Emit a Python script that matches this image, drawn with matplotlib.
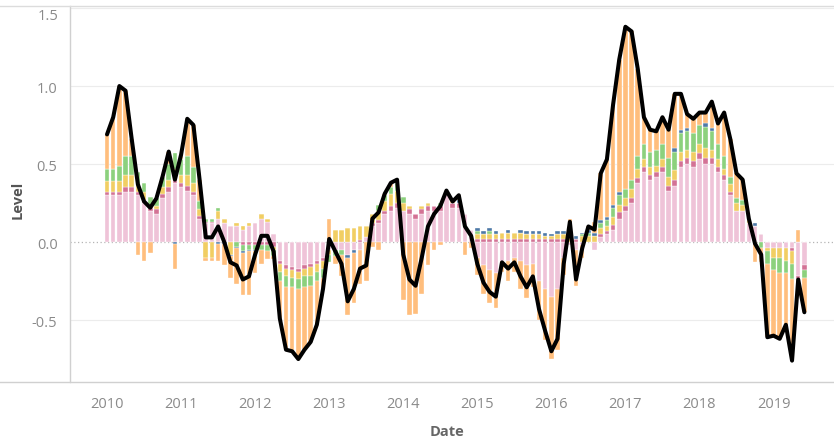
import numpy as np
import matplotlib
matplotlib.use("Agg")
import matplotlib.pyplot as plt
from matplotlib.lines import Line2D

# ---------------- data (monthly, Jan 2010 .. Jun 2019) ----------------
years = [2010, 2011, 2012, 2013, 2014, 2015, 2016, 2017, 2018, 2019]

pink = [.30,.30,.30,.32,.32,.30,.25,.20,.18,.28,.32,.38,
        .35,.33,.30,.15,.12,.12,.15,.12,.10,.10,.08,.10,
        .12,.15,.13,.05,-.12,-.15,-.16,-.17,-.15,-.14,-.12,-.10,
        -.05,-.05,-.05,-.08,-.05,-.05,.03,.10,.12,.18,.20,.22,
        .20,.18,.15,.18,.20,.20,.20,.30,.22,.22,.18,.08,
        -.10,-.15,-.18,-.20,-.12,-.12,-.10,-.12,-.15,-.14,-.25,-.30,
        -.35,-.30,-.10,-.02,-.05,-.02,.00,-.05,.03,.05,.08,.15,
        .20,.25,.38,.45,.40,.42,.45,.33,.36,.48,.50,.48,
        .53,.50,.50,.45,.40,.30,.20,.20,.12,.10,.05,-.04,
        -.04,-.04,-.04,-.04,-.22,-.15]

rose = [.02,.02,.02,.03,.03,.02,.02,.02,.03,.03,.03,.03,
        .03,.03,.02,.02,.01,.01,.00,.00,.00,.00,-.02,-.02,
        -.02,-.02,-.02,-.03,-.02,-.02,-.02,-.02,-.02,-.02,-.02,-.02,
        .00,.00,.00,.00,.00,.01,.00,.02,.02,.02,.03,.03,
        .00,.03,.03,.03,.03,.03,.03,.03,.03,.03,.00,.00,
        .02,.02,.02,.02,.02,.02,.02,.02,.02,.02,.02,.02,
        .02,.02,.02,.00,.02,.00,.00,.00,.02,.02,.03,.04,
        .03,.03,.03,.03,.03,.03,.03,.03,.04,.04,.04,.04,
        .04,.04,.04,.03,.03,.02,.00,.00,.00,.00,.00,.00,
        .00,.00,.00,-.02,-.02,-.03]

yellow = [.07,.07,.07,.08,.08,.05,.05,.02,.02,.04,.05,.06,
          .05,.07,.06,.04,-.10,-.10,.05,.03,-.08,.02,.02,.02,
          .00,.03,.02,-.02,-.05,-.05,-.05,-.05,-.05,-.06,-.05,-.05,
          -.03,.08,.08,.09,.09,.09,.07,.06,.06,.06,.08,.08,
          .05,.02,.00,.02,.02,.00,.00,.00,.00,.00,.00,.00,
          .03,.03,.03,.03,.04,.04,.04,.04,.03,.03,.03,.02,
          .02,.03,.03,.03,.00,.04,.04,.04,.04,.03,.05,.05,
          .05,.06,.06,.05,.05,.04,.05,.06,.06,.06,.05,.06,
          .06,.06,.05,.05,.04,.05,.05,.04,.02,.00,.00,-.02,
          -.06,-.06,-.08,-.08,.00,.00]

green = [.08,.08,.10,.12,.12,.08,.06,.05,.05,.07,.10,.10,
         .10,.12,.10,.05,.02,.02,.02,.00,.00,-.03,-.04,-.03,
         -.03,-.03,-.04,-.04,-.06,-.07,-.06,-.06,-.07,-.06,-.06,-.06,
         -.05,-.04,-.03,.00,.00,.00,.00,.00,.04,.04,.04,.05,
         .04,.00,.00,.00,.00,.00,.02,.00,.00,.00,.00,.00,
         .02,.00,.02,.00,.00,.00,.00,.00,.00,.00,.00,.00,
         .00,.00,.00,.00,.00,.01,.02,.00,.03,.04,.06,.06,
         .06,.06,.08,.10,.10,.10,.10,.12,.12,.12,.12,.12,
         .12,.14,.12,.10,.08,.05,.03,.03,.00,.00,-.04,-.08,
         -.08,-.10,-.08,-.10,-.08,-.05]

blue = [0,0,0,0,0,0,0,0,0,0,0,-.01,
        0,0,0,0,0,0,-.01,-.01,-.01,-.01,-.01,-.01,
        -.01,0,0,0,0,0,0,0,0,0,0,0,
        0,0,0,-.02,-.02,0,0,0,0,0,0,0,
        0,0,0,0,0,0,0,0,0,.02,0,0,
        .02,.02,.02,.02,0,.02,0,.02,.02,.02,.02,.02,
        .01,.02,.02,.02,.02,.01,.02,.02,.02,.02,.02,.02,
        0,0,0,0,0,0,0,0,.02,.02,.02,0,
        0,.02,.02,0,0,0,0,0,0,.02,0,0,
        0,0,0,0,0,0]

orange = [.22,.33,.51,.42,.11,-.08,-.12,-.07,.00,.00,.08,-.16,
          .03,.24,.27,.14,-.02,-.02,-.11,-.14,-.14,-.23,-.27,-.28,
          -.14,-.09,-.05,-.02,-.24,-.40,-.41,-.45,-.40,-.36,-.28,-.07,
          .15,-.05,-.14,-.37,-.32,-.22,-.25,-.03,-.05,.01,.03,.02,
          -.37,-.47,-.46,-.33,-.15,-.05,-.02,.00,.01,.03,-.08,-.04,
          -.11,-.18,-.21,-.22,-.07,-.13,-.09,-.18,-.21,-.15,-.25,-.33,
          -.40,-.39,-.11,.10,-.23,-.08,.02,.07,.30,.37,.64,.85,
          1.04,.95,.56,.17,.14,.12,.17,.18,.35,.23,.09,.09,
          .08,.07,.17,.13,.28,.24,.16,.13,.01,-.13,-.09,-.47,
          -.42,-.42,-.33,-.52,.08,-.22]

level = [.69,.80,1.00,.97,.66,.37,.26,.22,.28,.42,.58,.40,
         .56,.79,.75,.40,.03,.03,.10,.00,-.13,-.15,-.24,-.22,
         -.08,.04,.04,-.06,-.49,-.69,-.70,-.75,-.69,-.64,-.53,-.30,
         .02,-.06,-.14,-.38,-.30,-.17,-.15,.15,.19,.31,.38,.40,
         -.08,-.24,-.28,-.10,.10,.18,.23,.33,.26,.30,.10,.04,
         -.14,-.26,-.32,-.35,-.13,-.17,-.13,-.22,-.29,-.22,-.43,-.57,
         -.70,-.62,-.14,.13,-.24,-.04,.10,.08,.44,.53,.88,1.17,
         1.38,1.35,1.11,.80,.72,.71,.80,.72,.95,.95,.82,.79,
         .83,.83,.90,.76,.83,.66,.44,.40,.15,-.01,-.08,-.61,
         -.60,-.62,-.53,-.76,-.24,-.45]

components = [pink, rose, yellow, green, blue, orange]
colors = ["#EFC3D8", "#D37295", "#F1CE63", "#8CD17D", "#4E79A7", "#FFBE7D"]

# ---------------- figure ----------------
plt.rcParams['font.family'] = ['Open Sans', 'DejaVu Sans']
fig = plt.figure(figsize=(8.34, 4.39), dpi=100)
ax = fig.add_axes([70/834, (439-383)/439, 1 - 70/834, (383-7)/439])

n = len(level)
x = np.arange(n)
pos_base = np.zeros(n)
neg_base = np.zeros(n)
for vals, col in zip(components, colors):
    v = np.array(vals, dtype=float)
    bottoms = np.where(v >= 0, pos_base, neg_base)
    ax.bar(x, v, bottom=bottoms, width=0.74, color=col,
           edgecolor="white", linewidth=0.25, zorder=2)
    pos_base += np.where(v >= 0, v, 0)
    neg_base += np.where(v < 0, v, 0)

ax.plot(x, level, color="black", linewidth=2.9, solid_joinstyle="round",
        solid_capstyle="round", zorder=4)

ax.set_xlim(-6, 117.8)
ax.set_ylim(-0.897, 1.513)

ax.set_xticks([12*k for k in range(len(years))])
ax.set_xticklabels([str(y) for y in years])
ax.set_yticks([-0.5, 0.0, 0.5, 1.0])
ax.set_yticklabels(["-0.5", "0.0", "0.5", "1.0"])
ax.text(-0.015, 1.5, "1.5", transform=ax.get_yaxis_transform(),
        ha="right", va="top", fontsize=10.5, color="#8a8a8a")
ax.tick_params(axis="both", length=0, labelsize=10.5, colors="#8a8a8a")
ax.tick_params(axis="x", pad=10)
ax.tick_params(axis="y", pad=9)

for gv in [-0.5, 0.5, 1.0, 1.5]:
    ax.axhline(gv, color="#ececec", linewidth=0.8, zorder=0)
ax.axhline(0, color="#b5b5b5", linewidth=0.9, linestyle=(0, (1, 2)), zorder=1)

for s in ["top", "right", "bottom"]:
    ax.spines[s].set_visible(False)
ax.spines["left"].set_color("#d0d0d0")
ax.spines["left"].set_linewidth(1.0)

# frame lines spanning full width
fig.add_artist(Line2D([0, 1], [(439-383)/439]*2, color="#d0d0d0", linewidth=1.0,
                      transform=fig.transFigure))
fig.add_artist(Line2D([0, 1], [(439-7)/439]*2, color="#dcdcdc", linewidth=1.0,
                      transform=fig.transFigure))

fig.text(18/834, 1 - 200/439, "Level", rotation=90, ha="center", va="center",
         fontsize=10.5, fontweight="bold", color="#555555")
fig.text(447/834, 1 - 432/439, "Date", ha="center", va="center",
         fontsize=10.5, fontweight="bold", color="#666666")

fig.savefig("out.png", dpi=100, facecolor="white")
